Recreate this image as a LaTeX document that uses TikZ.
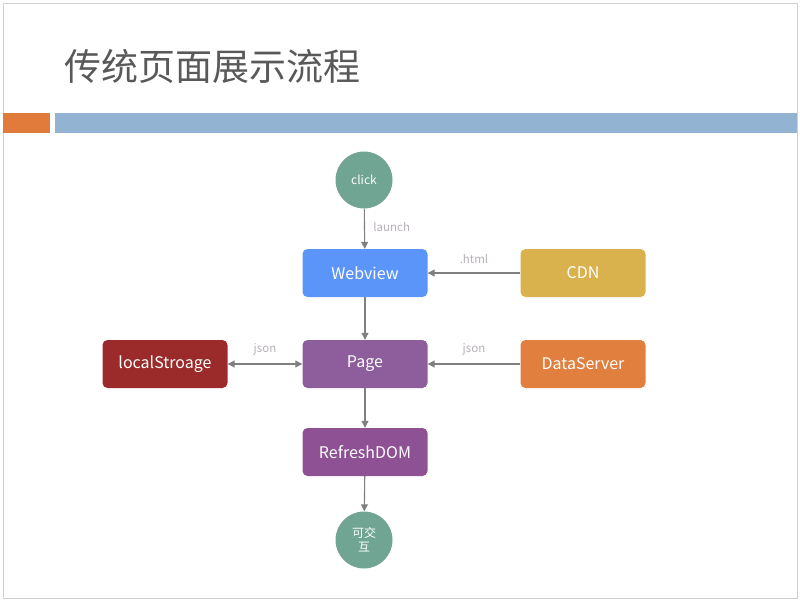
\documentclass[tikz,border=0pt]{standalone}
\usepackage{fontspec}
\setmainfont{Noto Sans CJK SC}
\usetikzlibrary{positioning}
\usetikzlibrary{arrows.meta}
\definecolor{titlegray}{HTML}{595959}
\definecolor{framegray}{HTML}{D0D0D0}
\definecolor{barorange}{HTML}{E07B3C}
\definecolor{barblue}{HTML}{93B3D3}
\definecolor{circgreen}{HTML}{6FA592}
\definecolor{webblue}{HTML}{5B95F9}
\definecolor{cdnyellow}{HTML}{D9B24E}
\definecolor{localred}{HTML}{9B2B2B}
\definecolor{pagepurple}{HTML}{8E5E9C}
\definecolor{dataorange}{HTML}{E07F3E}
\definecolor{refreshpurple}{HTML}{8E5193}
\definecolor{arrowgray}{HTML}{7F7F7F}
\definecolor{lblgray}{HTML}{B8B0B8}
\tikzset{
    Box/.style = {rectangle, rounded corners=5pt, minimum width=125pt, minimum height=48pt, text=white, font=\fontsize{16}{18}\selectfont}
}
\tikzset{
    Circ/.style = {circle, minimum size=57pt, inner sep=0pt, fill=circgreen, text=white, align=center, font=\fontsize{12}{14}\selectfont}
}
\tikzset{
    Edge/.style = {draw=arrowgray, line width=1.1pt, -{Triangle[length=7pt,width=7pt]}},
    Lbl/.style = {text=lblgray, font=\fontsize{11.5}{13}\selectfont}
}

\begin{document}
\begin{tikzpicture}[x=1pt, y=-1pt]
\useasboundingbox (0,0) rectangle (800,602);
% slide
\draw[framegray, line width=0.8pt] (3,3) rectangle (797,598);
\node[anchor=base west, text=titlegray, inner sep=0pt, font=\fontsize{37}{40}\selectfont] (title) at (64,81) {传统页面展示流程};
\fill[barorange] (3,113) rectangle (50,133);
\fill[barblue] (55,113) rectangle (797,133);
% nodes
\node[Circ] at (364,180) (click) {click};
\node[Box, fill=webblue] at (365,273) (webview) {Webview};
\node[Box, fill=cdnyellow] at (583,273) (cdn) {CDN};
\node[Box, fill=localred] at (165,364) (local) {localStroage};
\node[Box, fill=pagepurple] at (365,364) (page) {Page};
\node[Box, fill=dataorange] at (583,364) (data) {DataServer};
\node[Box, fill=refreshpurple] at (365,452) (refresh) {RefreshDOM};
\node[Circ] at (364,540) (inter) {可交\\互};
% edges
\path (click) edge [Edge] node[Lbl, right=5pt, yshift=2pt] {launch} (webview);
\path (cdn) edge [Edge] node[Lbl, above=5pt] {.html} (webview);
\path (webview) edge [Edge] (page);
\path (page) edge [Edge, {Triangle[length=7pt,width=7pt]}-{Triangle[length=7pt,width=7pt]}] node[Lbl, above=5pt] {json} (local);
\path (data) edge [Edge] node[Lbl, above=5pt] {json} (page);
\path (page) edge [Edge] (refresh);
\path (refresh) edge [Edge] (inter);
\end{tikzpicture}
\end{document}
